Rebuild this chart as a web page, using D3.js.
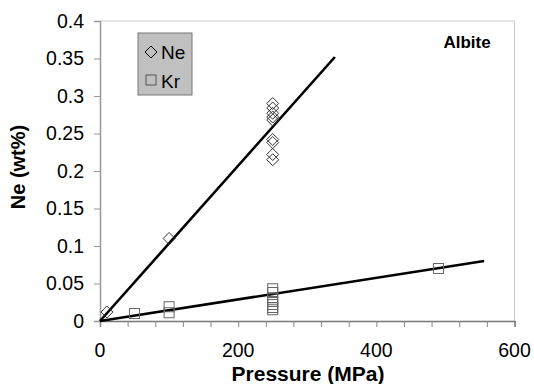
<!DOCTYPE html>
<html><head><meta charset="utf-8">
<script src="https://cdn.jsdelivr.net/npm/d3@7"></script>
<style>body{margin:0;background:#fff}svg{display:block}text{font-family:"Liberation Sans",Arial,sans-serif}</style>
</head><body>
<svg id="c" width="534" height="384"></svg>
<script>
const neP = [10, 100, 250, 250, 250, 250, 250, 250, 250, 250, 250];
const neV = [0.012, 0.110, 0.290, 0.284, 0.277, 0.272, 0.268, 0.242, 0.238, 0.222, 0.215];
const krP = [50, 100, 100, 250, 250, 250, 250, 250, 250, 250, 490];
const krV = [0.010, 0.011, 0.019, 0.043, 0.038, 0.031, 0.026, 0.022, 0.018, 0.015, 0.070];
const neFit = [[0, 0], [340, 0.352]];
const krFit = [[0, 0], [556, 0.080]];
const xTicks = [0, 200, 400, 600];
const xMinor = d3.range(0, 601, 40);
const yTicks = [0, 0.05, 0.1, 0.15, 0.2, 0.25, 0.3, 0.35, 0.4];

const svg = d3.select("#c");
const L = 100, R = 514.5, T = 21, B = 321;
const x = d3.scaleLinear().domain([0, 600]).range([L, R]);
const y = d3.scaleLinear().domain([0, 0.4]).range([B, T]);

// plot frame (top/right light)
svg.append("path").attr("d", `M${L},${T}H${R}V${B}`).attr("fill","none").attr("stroke","#c8c8c8").attr("stroke-width",1);

// y axis
const ya = svg.append("g").attr("transform",`translate(${L},0)`)
  .call(d3.axisLeft(y).tickValues(yTicks).tickSize(6).tickPadding(10).tickFormat(d => String(+d.toFixed(2))));
ya.select(".domain").attr("stroke","#999").attr("stroke-width",1.5);
ya.selectAll(".tick line").attr("stroke","#999");
ya.selectAll(".tick text").attr("font-size",19.5).attr("fill","#000");

// x axis
const xa = svg.append("g").attr("transform",`translate(0,${B})`)
  .call(d3.axisBottom(x).tickValues(xMinor).tickSize(6).tickFormat(""));
xa.select(".domain").attr("stroke","#777").attr("stroke-width",1.5);
xa.selectAll(".tick line").attr("stroke","#888");
svg.append("g").selectAll("text").data(xTicks).join("text")
  .attr("x", d => x(d)).attr("y", 357).attr("text-anchor","middle")
  .attr("font-size",19.5).text(d => d);

// fit lines
const line = d3.line().x(d => x(d[0])).y(d => y(d[1]));
[neFit, krFit].forEach(f => svg.append("path").attr("d", line(f)).attr("fill","none").attr("stroke","#000").attr("stroke-width",2.6));

// markers
const diamond = (cx, cy, r) => `M${cx},${cy-r}L${cx+r},${cy}L${cx},${cy+r}L${cx-r},${cy}Z`;
svg.append("g").selectAll("path").data(neP.map((p,i)=>[p,neV[i]])).join("path")
  .attr("d", d => diamond(x(d[0]), y(d[1]), 6)).attr("fill","none").attr("stroke","#333").attr("stroke-width",1);
svg.append("g").selectAll("rect").data(krP.map((p,i)=>[p,krV[i]])).join("rect")
  .attr("x", d => x(d[0]) - 5).attr("y", d => y(d[1]) - 5).attr("width",10).attr("height",10)
  .attr("fill","none").attr("stroke","#666").attr("stroke-width",1);

// legend
const lg = svg.append("g");
lg.append("rect").attr("x",138).attr("y",33).attr("width",54).attr("height",62).attr("fill","#c0c0c0").attr("stroke","#777");
lg.append("path").attr("d", diamond(151, 52, 6)).attr("fill","none").attr("stroke","#000");
lg.append("rect").attr("x",146).attr("y",75).attr("width",10).attr("height",10).attr("fill","none").attr("stroke","#555");
lg.append("text").attr("x",161).attr("y",59).attr("font-size",19).text("Ne");
lg.append("text").attr("x",161).attr("y",88).attr("font-size",19).text("Kr");

// titles
svg.append("text").attr("x",467).attr("y",48).attr("text-anchor","middle").attr("font-size",17).attr("font-weight","bold").text("Albite");
svg.append("text").attr("x",308).attr("y",381).attr("text-anchor","middle").attr("font-size",21).attr("font-weight","bold").text("Pressure (MPa)");
svg.append("text").attr("transform","translate(25,167) rotate(-90)").attr("text-anchor","middle").attr("font-size",20).attr("font-weight","bold").text("Ne (wt%)");
</script>
</body></html>
